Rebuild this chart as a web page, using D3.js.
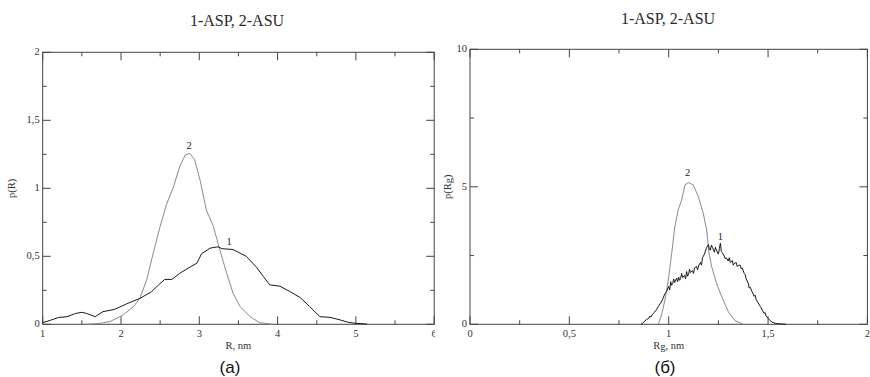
<!DOCTYPE html>
<html><head><meta charset="utf-8">
<script src="https://cdn.jsdelivr.net/npm/d3@7"></script>
<style>body{margin:0;background:#fff}svg{display:block}</style>
</head><body>
<script>
// Panel (a): p(R)
const titleA = "1-ASP, 2-ASU";
const xTicksA = [1,2,3,4,5,6];
const yTicksA = [0,0.5,1,1.5,2];
const asp_R = [[1,0.012],[1.1,0.03],[1.2,0.05],[1.31,0.056],[1.42,0.08],[1.5,0.088],[1.56,0.08],[1.67,0.056],[1.77,0.093],[1.92,0.11],[2.07,0.15],[2.24,0.19],[2.39,0.24],[2.48,0.29],[2.56,0.33],[2.65,0.33],[2.75,0.375],[2.88,0.42],[2.97,0.45],[3.03,0.52],[3.14,0.56],[3.24,0.57],[3.29,0.556],[3.43,0.55],[3.6,0.5],[3.73,0.42],[3.82,0.35],[3.9,0.29],[4.03,0.28],[4.16,0.24],[4.29,0.196],[4.41,0.13],[4.54,0.056],[4.67,0.051],[4.8,0.032],[4.9,0.015],[5.0,0.007],[5.14,0.002]];
const asu_R = [[1.56,0],[1.73,0.007],[1.86,0.02],[2.03,0.07],[2.16,0.13],[2.24,0.19],[2.33,0.33],[2.41,0.52],[2.5,0.72],[2.58,0.88],[2.67,1.01],[2.75,1.16],[2.82,1.245],[2.88,1.257],[2.94,1.21],[3.01,1.06],[3.09,0.84],[3.18,0.72],[3.26,0.55],[3.35,0.375],[3.43,0.23],[3.52,0.13],[3.65,0.056],[3.77,0.012],[3.94,0]];
// Panel (б): p(Rg)
const titleB = "1-ASP, 2-ASU";
const xTicksB = [0,0.5,1,1.5,2];
const yTicksB = [0,5,10];
const asp_Rg = [[0.86,0],[0.87,0.05],[0.88,0.12],[0.89,0.18],[0.90,0.22],[0.905,0.3],[0.91,0.26],[0.92,0.38],[0.93,0.45],[0.94,0.55],[0.95,0.68],[0.96,0.78],[0.97,0.92],[0.98,1.10],[0.99,1.20],[1.00,1.38],[1.005,1.25],[1.01,1.55],[1.015,1.42],[1.02,1.48],[1.025,1.65],[1.03,1.52],[1.04,1.68],[1.045,1.55],[1.05,1.72],[1.055,1.6],[1.06,1.66],[1.065,1.85],[1.07,1.70],[1.08,1.78],[1.085,1.65],[1.09,1.92],[1.095,1.75],[1.10,1.82],[1.105,2.0],[1.11,1.88],[1.12,1.95],[1.125,1.85],[1.13,2.05],[1.14,2.10],[1.145,1.98],[1.15,2.12],[1.16,2.25],[1.165,2.15],[1.17,2.42],[1.18,2.55],[1.19,2.78],[1.20,2.90],[1.205,2.72],[1.21,2.70],[1.215,2.88],[1.22,2.80],[1.23,2.62],[1.235,2.8],[1.24,2.70],[1.25,2.55],[1.255,2.75],[1.26,2.95],[1.265,2.65],[1.27,2.60],[1.28,2.48],[1.285,2.38],[1.29,2.42],[1.30,2.30],[1.305,2.42],[1.31,2.25],[1.32,2.32],[1.325,2.15],[1.33,2.22],[1.34,2.24],[1.345,2.10],[1.35,2.14],[1.36,2.15],[1.365,2.02],[1.37,2.05],[1.38,1.85],[1.385,1.8],[1.39,1.65],[1.40,1.50],[1.405,1.32],[1.41,1.35],[1.42,1.18],[1.43,1.02],[1.435,1.06],[1.44,0.9],[1.45,0.78],[1.46,0.66],[1.465,0.6],[1.47,0.52],[1.48,0.40],[1.485,0.43],[1.49,0.30],[1.50,0.22],[1.51,0.14],[1.52,0.08],[1.53,0.05],[1.54,0.03],[1.55,0.02],[1.56,0.02],[1.57,0.01],[1.58,0.01],[1.59,0]];
const asu_Rg = [[0.948,0],[0.964,0.34],[0.981,0.88],[0.998,1.61],[1.015,2.58],[1.031,3.55],[1.048,4.16],[1.065,4.52],[1.082,5.07],[1.099,5.15],[1.124,5.07],[1.149,4.64],[1.174,4.04],[1.191,3.43],[1.203,2.58],[1.216,2.1],[1.241,1.49],[1.267,1.0],[1.3,0.46],[1.334,0.13],[1.376,0]];

const W = 870, H = 377;
const svg = d3.select("body").append("svg").attr("width", W).attr("height", H);
const serif = "'Liberation Serif','DejaVu Serif',serif";
const fmt = v => String(v).replace(".", ",");

function panel(o) {
  const clipId = "clip" + o.id;
  svg.append("clipPath").attr("id", clipId).append("rect")
    .attr("x", o.clip[0]).attr("y", 0).attr("width", o.clip[1] - o.clip[0]).attr("height", H);
  const g = svg.append("g").attr("clip-path", `url(#${clipId})`);
  const x = d3.scaleLinear().domain(o.xd).range([o.l, o.r]);
  const y = d3.scaleLinear().domain(o.yd).range([o.b, o.t]);
  const frame = "#444";
  const xt = d3.range(o.xd[0], o.xd[1] + 1e-9, o.xMinor);
  const yt = d3.range(o.yd[0], o.yd[1] + 1e-9, o.yMinor);
  const isMaj = (v, step) => Math.abs(v / step - Math.round(v / step)) < 1e-6;
  xt.forEach(v => {
    const len = isMaj(v, o.xMajor) ? 8 : 4;
    g.append("line").attr("x1", x(v)).attr("x2", x(v)).attr("y1", o.b).attr("y2", o.b - len).attr("stroke", frame);
    g.append("line").attr("x1", x(v)).attr("x2", x(v)).attr("y1", o.t).attr("y2", o.t + len).attr("stroke", frame);
  });
  yt.forEach(v => {
    const len = isMaj(v, o.yMajor) ? 8 : 4;
    g.append("line").attr("y1", y(v)).attr("y2", y(v)).attr("x1", o.l).attr("x2", o.l + len).attr("stroke", frame);
    g.append("line").attr("y1", y(v)).attr("y2", y(v)).attr("x1", o.r).attr("x2", o.r - len).attr("stroke", frame);
  });
  g.append("rect").attr("x", o.l).attr("y", o.t).attr("width", o.r - o.l).attr("height", o.b - o.t)
    .attr("fill", "none").attr("stroke", frame).attr("stroke-width", 1);
  o.xTicks.forEach(v => g.append("text").attr("x", x(v)).attr("y", o.b + 13).attr("text-anchor", "middle")
    .attr("font-family", serif).attr("font-size", 10.5).attr("fill", "#333").text(fmt(v)));
  o.yTicks.forEach(v => g.append("text").attr("x", o.l - 3).attr("y", y(v) + 3).attr("text-anchor", "end")
    .attr("font-family", serif).attr("font-size", 10.5).attr("fill", "#333").text(fmt(v)));
  const line = d3.line().x(d => x(d[0])).y(d => y(d[1]));
  g.append("path").datum(o.s2).attr("d", line).attr("fill", "none").attr("stroke", "#8a8a8a").attr("stroke-width", 1);
  g.append("path").datum(o.s1).attr("d", line).attr("fill", "none").attr("stroke", "#1a1a1a").attr("stroke-width", 1);
  [[o.lab2, "2"], [o.lab1, "1"]].forEach(([p, t]) => g.append("text").attr("x", x(p[0])).attr("y", y(p[1]))
    .attr("text-anchor", "middle").attr("font-family", serif).attr("font-size", 10.5).attr("fill", "#222").text(t));
  g.append("text").attr("x", o.titleX).attr("y", o.titleY).attr("text-anchor", "middle")
    .attr("font-family", serif).attr("font-size", 16).attr("fill", "#2a2a2a").text(o.title);
  const xl = g.append("text").attr("x", (o.l + o.r) / 2).attr("y", o.b + 25).attr("text-anchor", "middle")
    .attr("font-family", serif).attr("font-size", 10.5).attr("fill", "#333");
  xl.append("tspan").text(o.xLabel[0]);
  if (o.xLabel[1]) xl.append("tspan").attr("dy", 1).text(o.xLabel[1]);
  if (o.xLabel[2]) xl.append("tspan").attr("dy", o.xLabel[1] ? -1 : 0).text(o.xLabel[2]);
  const yl = g.append("text").attr("transform", `translate(${o.yLabelX},${(o.t + o.b) / 2}) rotate(-90)`)
    .attr("text-anchor", "middle").attr("font-family", serif).attr("font-size", 10.5).attr("fill", "#333");
  yl.append("tspan").text(o.yLabel[0]);
  if (o.yLabel[1]) yl.append("tspan").attr("dy", 1).text(o.yLabel[1]);
  if (o.yLabel[2]) yl.append("tspan").attr("dy", o.yLabel[1] ? -1 : 0).text(o.yLabel[2]);
  g.append("text").attr("x", o.capX).attr("y", 373).attr("text-anchor", "middle")
    .attr("font-family", "'Liberation Sans',Arial,sans-serif").attr("font-size", 17).attr("fill", "#111").text(o.caption);
}

panel({id: "a", clip: [0, 435], l: 42.7, r: 434.2, t: 52.3, b: 324.3, xd: [1, 6], yd: [0, 2],
  xMajor: 1, xMinor: 0.5, yMajor: 0.5, yMinor: 0.25, xTicks: xTicksA, yTicks: yTicksA,
  s1: asp_R, s2: asu_R, lab2: [2.87, 1.29], lab1: [3.38, 0.58],
  title: titleA, titleX: 237, titleY: 26, xLabel: ["R, nm"], yLabel: ["p(R)"], yLabelX: 15,
  caption: "(a)", capX: 230});
panel({id: "b", clip: [435, 870], l: 470, r: 867.4, t: 49.3, b: 324.3, xd: [0, 2], yd: [0, 10],
  xMajor: 0.5, xMinor: 0.25, yMajor: 5, yMinor: 2.5, xTicks: xTicksB, yTicks: yTicksB,
  s1: asp_Rg, s2: asu_Rg, lab2: [1.095, 5.4], lab1: [1.26, 3.05],
  title: titleB, titleX: 668, titleY: 24, xLabel: ["R", "g", ", nm"], yLabel: ["p(R", "g", ")"], yLabelX: 451,
  caption: "(б)", capX: 665});
</script>
</body></html>
